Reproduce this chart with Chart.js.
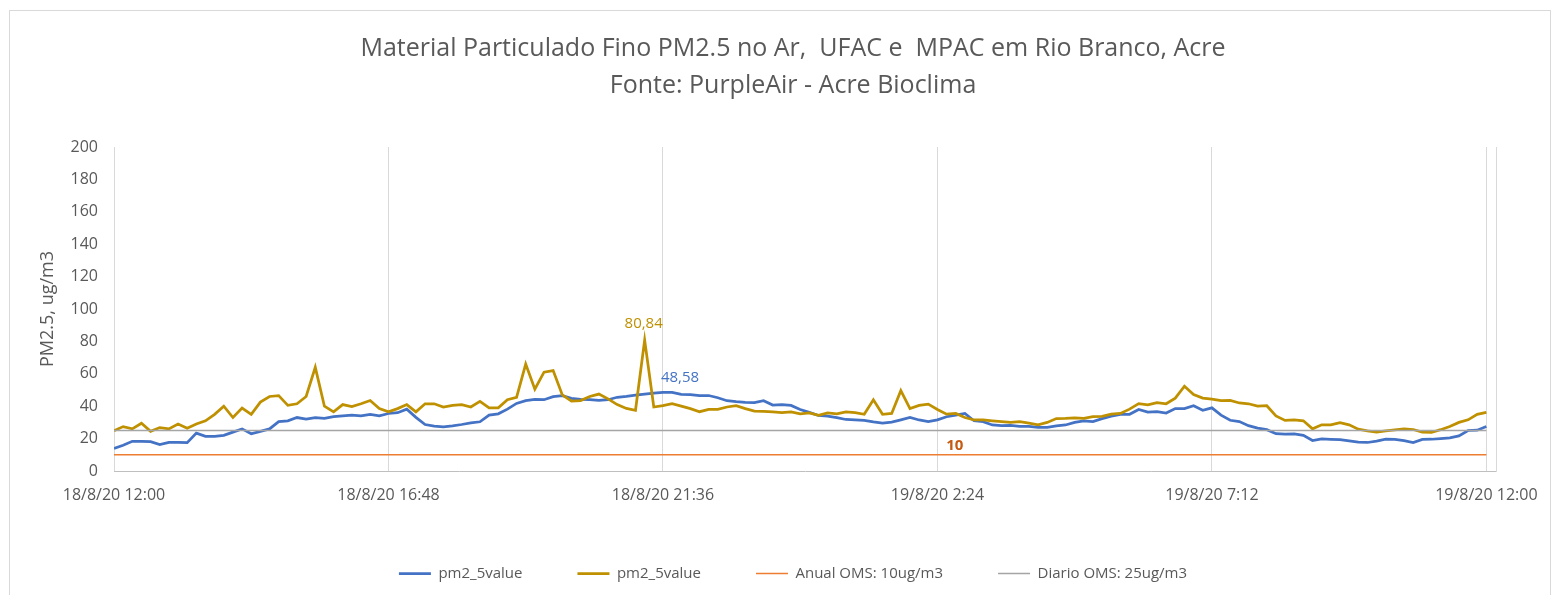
<!DOCTYPE html>
<html>
<head>
<meta charset="utf-8">
<script src="https://cdn.jsdelivr.net/npm/chart.js@4/dist/chart.umd.min.js"></script>
<style>
  body { margin: 0; background: #fff; }
  #frame { position: absolute; left: 9px; top: 10px; width: 1540px; height: 620px; border: 1px solid #d9d9d9; }
  #myChart { position: absolute; left: 0; top: 0; }
</style>
</head>
<body>
<div id="frame"></div>
<canvas id="myChart" width="1553" height="595"></canvas>
<script>
// 18/8/20 12:00 -> 19/8/20 12:00, one reading every 9.6 min (0.16 h)
let stepHours = 0.16;
let tickHours = [0, 4.8, 9.6, 14.4, 19.2, 24];
let tickLabels = ['18/8/20 12:00', '18/8/20 16:48', '18/8/20 21:36', '19/8/20 2:24', '19/8/20 7:12', '19/8/20 12:00'];

// sensor 1 (blue)
let pmUfac = [
  13.9, 15.9, 18.3, 18.3, 18.1, 16.3, 17.7, 17.7, 17.5, 23.4,
  21.4, 21.4, 22, 24, 26, 23, 24.5, 26, 30.5, 31,
  33, 32, 33, 32.5, 33.5, 34, 34.5, 34, 35, 34,
  35.5, 36, 38.2, 33.1, 28.7, 27.7, 27.3, 27.9, 28.7, 29.7,
  30.4, 34.5, 35.3, 38.2, 41.7, 43.4, 44.2, 44, 45.9, 46.5,
  44.8, 44.2, 44, 43.6, 44, 45.5, 46.1, 46.9, 47.5, 48.1,
  48.58, 48.5, 47.3, 47.2, 46.5, 46.6, 45.2, 43.4, 42.8, 42.4,
  42.2, 43.4, 40.7, 41, 40.5, 38, 36.2, 34.3, 33.9, 33,
  31.8, 31.6, 31.2, 30.3, 29.6, 30.2, 31.6, 33, 31.5, 30.5,
  31.6, 33.5, 34.5, 35.5, 31, 30.5, 28.4, 28, 28.2, 27.5,
  27.6, 26.9, 27, 27.9, 28.4, 30, 31, 30.5, 32.3, 33.8,
  35, 35, 38, 36.4, 36.6, 35.8, 38.5, 38.5, 40.3, 37.5,
  39, 34.5, 31.3, 30.5, 28, 26.5, 25.5, 23, 22.8, 22.9,
  22, 18.8, 19.8, 19.5, 19.3, 18.6, 17.8, 17.6, 18.4, 19.6,
  19.5, 18.7, 17.6, 19.5, 19.6, 20, 20.5, 21.7, 25, 25.2,
  27.5
];

// sensor 2 (gold)
let pmMpac = [
  24.8, 27.4, 26, 29.5, 24.5, 26.8, 26, 29, 26.4, 29,
  31, 35, 40, 33, 38.8, 35, 42.5, 46, 46.5, 40.5,
  41.5, 46, 64, 40, 36.5, 41, 39.8, 41.5, 43.5, 38.6,
  36.5, 38.5, 41, 36.5, 41.5, 41.5, 39.5, 40.5, 41, 39.5,
  43, 39, 39, 44, 45.5, 66, 50.5, 61, 62, 47,
  43.2, 43.5, 46, 47.5, 44.5, 41, 38.6, 37.5, 80.84, 39.5,
  40.3, 41.5, 40, 38.5, 36.6, 38, 38, 39.5, 40.3, 38.5,
  37, 36.8, 36.5, 36, 36.5, 35.3, 35.8, 34.3, 35.8, 35.3,
  36.5, 36, 35, 44, 35, 35.5, 49.6, 38.5, 40.5, 41.3,
  38, 35.1, 35.5, 33, 31.5, 31.6, 31, 30.5, 30, 30.4,
  29.5, 28.5, 30, 32.4, 32.5, 32.8, 32.5, 33.5, 33.7, 35.1,
  35.5, 38.2, 41.6, 40.8, 42.2, 41.5, 45, 52.3, 47.2, 45,
  44.4, 43.5, 43.6, 42, 41.5, 40, 40.3, 34, 31.2, 31.5,
  31, 26, 28.5, 28.5, 29.8, 28.5, 25.8, 24.8, 24, 24.8,
  25.4, 26, 25.6, 24, 23.8, 25.5, 27.5, 30, 31.6, 35,
  36.2
];

let annualLimit = 10;   // OMS anual
let dailyLimit = 25;    // OMS diario

let seriesNames = ['pm2_5value', 'pm2_5value', 'Anual OMS: 10ug/m3', 'Diario OMS: 25ug/m3'];
let seriesColors = ['#4472C4', '#BF9000', '#ED7D31', '#A5A5A5'];

let fontFamily = "'Open Sans', sans-serif";
let textGray = '#595959';

let toPoints = arr => arr.map((v, i) => ({ x: i * stepHours, y: v }));
let flat = v => pmUfac.map((_, i) => ({ x: i * stepHours, y: v }));

// data labels shown in the original
let labelSpecs = [
  { dataset: 1, index: pmMpac.indexOf(Math.max(...pmMpac)), color: '#BF9000', align: 'center', dx: -1, dy: -9, bold: false },
  { dataset: 0, index: pmUfac.indexOf(Math.max(...pmUfac)), color: '#4472C4', align: 'left', dx: -2, dy: -7, bold: false },
  { dataset: 2, index: 92, color: '#C55A11', align: 'center', dx: -1, dy: -2, bold: true }
];

let pointLabels = {
    id: 'pointLabels',
    afterDatasetsDraw(chart) {
        let ctx = chart.ctx;
        labelSpecs.forEach(s => {
            let pt = chart.getDatasetMeta(s.dataset).data[s.index];
            let raw = chart.data.datasets[s.dataset].data[s.index].y;
            let txt = Number.isInteger(raw) ? String(raw) : raw.toFixed(2).replace('.', ',');
            ctx.save();
            ctx.font = (s.bold ? 'bold ' : '') + '15px ' + fontFamily;
            ctx.fillStyle = s.color;
            ctx.textAlign = s.align;
            ctx.textBaseline = 'bottom';
            ctx.fillText(txt, pt.x + s.dx, pt.y + s.dy);
            ctx.restore();
        });
    }
};

let myChart = document.getElementById('myChart').getContext('2d');

let massChart = new Chart(myChart, {
    type: 'line',
    data: {
        datasets: [
            { label: seriesNames[0], data: toPoints(pmUfac), borderColor: seriesColors[0], backgroundColor: seriesColors[0], borderWidth: 2.75, order: 4 },
            { label: seriesNames[1], data: toPoints(pmMpac), borderColor: seriesColors[1], backgroundColor: seriesColors[1], borderWidth: 2.75, order: 3 },
            { label: seriesNames[2], data: flat(annualLimit), borderColor: seriesColors[2], backgroundColor: seriesColors[2], borderWidth: 1.5, order: 2 },
            { label: seriesNames[3], data: flat(dailyLimit), borderColor: seriesColors[3], backgroundColor: seriesColors[3], borderWidth: 1.5, order: 1 }
        ]
    },
    options: {
        responsive: false,
        animation: false,
        elements: { point: { radius: 0 }, line: { tension: 0 } },
        // right padding kept small so title/legend centre like the original; right axis width keeps the plot edge
        layout: { padding: { left: 34, right: 1, top: 30, bottom: 4 } },
        scales: {
            x: {
                type: 'linear',
                min: 0,
                max: 24.18,
                afterBuildTicks: scale => { scale.ticks = tickHours.map(v => ({ value: v })); },
                afterFit: scale => { scale.height = 40; },
                ticks: {
                    callback: (v, i) => tickLabels[i],
                    color: textGray,
                    font: { family: fontFamily, size: 16 },
                    maxRotation: 0,
                    autoSkip: false,
                    padding: 15
                },
                grid: { color: '#d9d9d9', drawTicks: false },
                border: { color: '#bfbfbf' }
            },
            y: {
                min: 0,
                max: 200,
                afterFit: scale => { scale.width = 80; },
                ticks: { stepSize: 20, color: textGray, font: { family: fontFamily, size: 16 }, padding: 8 },
                grid: { display: false },
                border: { display: false },
                title: {
                    display: true,
                    text: 'PM2.5, ug/m3',
                    color: textGray,
                    font: { family: fontFamily, size: 18 },
                    padding: { top: 3, bottom: 14 }
                }
            },
            yRight: {
                position: 'right',
                min: 0,
                max: 200,
                afterFit: scale => { scale.width = 55; },
                ticks: { display: false },
                grid: { display: false },
                border: { color: '#d9d9d9' }
            }
        },
        plugins: {
            title: {
                display: true,
                text: ['Material Particulado Fino PM2.5 no Ar,  UFAC e  MPAC em Rio Branco, Acre', 'Fonte: PurpleAir - Acre Bioclima'],
                color: textGray,
                font: { family: fontFamily, size: 25, weight: 'normal', lineHeight: 1.48 },
                padding: { top: 0, bottom: 43 }
            },
            legend: {
                position: 'bottom',
                labels: {
                    sort: (a, b) => a.datasetIndex - b.datasetIndex,
                    usePointStyle: true,
                    pointStyle: 'line',
                    pointStyleWidth: 32,
                    color: textGray,
                    font: { family: fontFamily, size: 15 },
                    padding: 55
                }
            },
            tooltip: { enabled: false }
        }
    },
    plugins: [pointLabels]
});
</script>
</body>
</html>
